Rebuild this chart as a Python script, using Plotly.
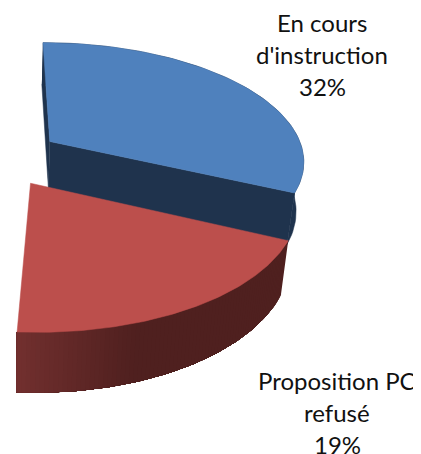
import numpy as np
import plotly.graph_objects as go

# pie values (only two slices are shown in the picture)
categories = ["En cours<br>d'instruction", "Proposition PC<br>refusé"]
values = [32, 19]
top_colors = ["#4f81bd", "#bc4f4c"]
wall_colors = ["#1f334d", "#4f201f"]
label_pos = [(322, 22), (337, 380)]

# perspective view of the pie plane, fitted on the picture
CX, CY, RX, RY, K = -3, 157, 255, 118, 0.15
EXPLODE = 0.25
DEPTH = 49
LINE_GAP = 32


def project(u, v):
    w = 1 + K * v
    return CX + RX * u / w, CY - RY * v / w, w


def lower(x, y, w):
    # same point on the underside of the slice
    return CX + (x - CX) * 0.975, y + DEPTH / w


def slice_outline(start, pct):
    sweep = pct * 3.6
    mid = np.radians(start + sweep / 2)
    du, dv = EXPLODE * np.sin(mid), EXPLODE * np.cos(mid)
    th = np.radians(np.linspace(start, start + sweep, 80))
    ax, ay, aw = project(np.array([du]), np.array([dv]))
    x, y, w = project(du + np.sin(th), dv + np.cos(th))
    return (ax, ay, aw), (x, y, w)


def poly(fig, x, y, color):
    fig.add_trace(go.Scatter(x=x, y=y, mode="lines", fill="toself", fillcolor=color,
                             line=dict(color=color, width=0.5), hoverinfo="skip", showlegend=False))


def wall(fig, x, y, w, color):
    bx, by = lower(x, y, w)
    poly(fig, np.r_[x, bx[::-1]], np.r_[y, by[::-1]], color)


fig = go.Figure()

start = 0
for i, pct in enumerate(values):
    (ax, ay, aw), (x, y, w) = slice_outline(start, pct)
    if i == 0:
        # flat dark sides of the blue slice
        wall(fig, np.r_[x[0], ax], np.r_[y[0], ay], np.r_[w[0], aw], wall_colors[i])
        wall(fig, np.r_[ax, x[-1]], np.r_[ay, y[-1]], np.r_[aw, w[-1]], wall_colors[i])
        wall(fig, x, y, w, wall_colors[i])
    else:
        # rounded side gets lighter towards the left end, painted over itself so no seams
        for j in range(len(x) - 1):
            t = min(max((140 - x[j]) / 120, 0), 1)
            col = "rgb(%d,%d,%d)" % (79 + 35 * t, 32 + 16 * t, 31 + 16 * t)
            wall(fig, x[j:], y[j:], w[j:], col)
    poly(fig, np.r_[ax, x, ax], np.r_[ay, y, ay], top_colors[i])
    start += pct * 3.6

for cat, pct, (lx, ly) in zip(categories, values, label_pos):
    for n, line in enumerate(f"{cat}<br>{pct}%".split("<br>")):
        fig.add_annotation(x=lx, y=ly + n * LINE_GAP, text=line, showarrow=False,
                           font=dict(family="Lato", size=24, color="#111111"))

fig.update_layout(
    width=421, height=454,
    margin=dict(l=0, r=0, t=0, b=0),
    paper_bgcolor="white", plot_bgcolor="white",
    xaxis=dict(range=[8, 429], visible=False, fixedrange=True),
    yaxis=dict(range=[462, 8], visible=False, fixedrange=True),
    showlegend=False,
)
fig.write_html("out.html", config=dict(displayModeBar=False))
